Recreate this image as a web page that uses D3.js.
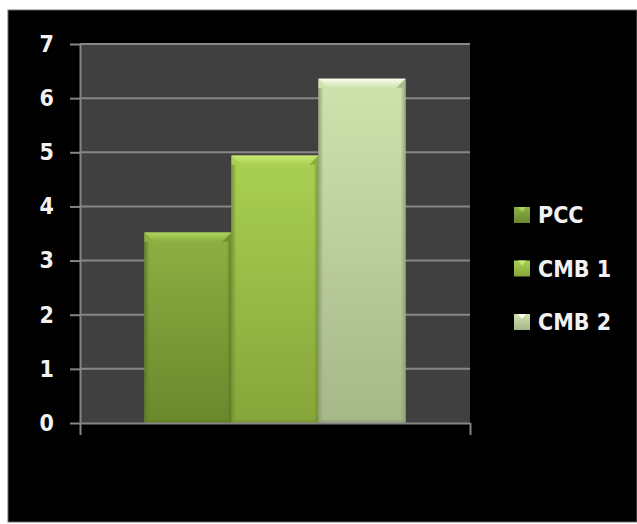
<!DOCTYPE html>
<html>
<head>
<meta charset="utf-8">
<script src="https://cdn.jsdelivr.net/npm/d3@7"></script>
<style>
  html, body { margin: 0; padding: 0; background: #ffffff; }
  svg { display: block; }
  text { font-family: "Liberation Sans Narrow", "DejaVu Sans Condensed", "Liberation Sans", sans-serif; font-weight: bold; fill: #f2f2f2; }
</style>
</head>
<body>
<svg id="chart" width="637" height="524"></svg>
<script>
// ---- data ----
const categories = [""];
const series = ["PCC", "CMB 1", "CMB 2"];
const values = [3.52, 4.94, 6.36];
const yTicks = [0, 1, 2, 3, 4, 5, 6, 7];

// ---- styles ----
const faceTop    = ["#8db043", "#a9d052", "#cfe3ae"];
const faceBottom = ["#6a882c", "#86a53a", "#a6b788"];
const bevelLight = ["#acd45c", "#c8ea76", "#f8fdf0"];
const bevelDark  = ["#5d7a24", "#739230", "#8e9e74"];

const W = 637, H = 524;
const margin = { left: 80, right: 167, top: 44, bottom: 101 };
const plotW = W - margin.left - margin.right;   // 390
const plotH = H - margin.top - margin.bottom;   // 379

const svg = d3.select("#chart");
const defs = svg.append("defs");

// background frame
svg.append("rect").attr("x", 8).attr("y", 10).attr("width", 629).attr("height", 512)
  .attr("fill", "#000").attr("stroke", "#6a6a6a").attr("stroke-width", 1);

const g = svg.append("g").attr("transform", `translate(${margin.left},${margin.top})`);

const y = d3.scaleLinear().domain([0, 7]).range([plotH, 0]);
const x0 = d3.scaleBand().domain(categories).range([0, plotW]).paddingInner(0).paddingOuter(0.247);
const x1 = d3.scaleBand().domain(series).range([0, x0.bandwidth()]).padding(0);

// plot background
g.append("rect").attr("x", 0).attr("y", 0).attr("width", plotW).attr("height", plotH).attr("fill", "#404040");

// gridlines
g.append("g").selectAll("line").data(yTicks.filter(d => d > 0)).join("line")
  .attr("x1", 0).attr("x2", plotW)
  .attr("y1", d => y(d)).attr("y2", d => y(d))
  .attr("stroke", "#878787").attr("stroke-width", 2);

// gradients
series.forEach((s, i) => {
  const lg = defs.append("linearGradient").attr("id", "face" + i).attr("x1", 0).attr("y1", 0).attr("x2", 0).attr("y2", 1);
  lg.append("stop").attr("offset", "0%").attr("stop-color", faceTop[i]);
  lg.append("stop").attr("offset", "100%").attr("stop-color", faceBottom[i]);
  const bv = defs.append("linearGradient").attr("id", "bevel" + i).attr("x1", 0).attr("y1", 0).attr("x2", 0).attr("y2", 1);
  bv.append("stop").attr("offset", "0%").attr("stop-color", bevelLight[i]);
  bv.append("stop").attr("offset", "100%").attr("stop-color", faceTop[i]);
  const lgL = defs.append("linearGradient").attr("id", "edgeL" + i).attr("x1", 0).attr("y1", 0).attr("x2", 1).attr("y2", 0);
  lgL.append("stop").attr("offset", "0%").attr("stop-color", bevelDark[i]).attr("stop-opacity", 0.9);
  lgL.append("stop").attr("offset", "100%").attr("stop-color", bevelDark[i]).attr("stop-opacity", 0);
  const lgR = defs.append("linearGradient").attr("id", "edgeR" + i).attr("x1", 1).attr("y1", 0).attr("x2", 0).attr("y2", 0);
  lgR.append("stop").attr("offset", "0%").attr("stop-color", bevelDark[i]).attr("stop-opacity", 0.9);
  lgR.append("stop").attr("offset", "100%").attr("stop-color", bevelDark[i]).attr("stop-opacity", 0);
});

// bars
const bev = 9, edge = 5;
const bars = g.append("g").attr("transform", `translate(${x0("")},0)`);
series.forEach((s, i) => {
  const bx = x1(s), bw = x1.bandwidth(), by = y(values[i]), bh = y(0) - y(values[i]);
  const b = bars.append("g");
  b.append("rect").attr("x", bx).attr("y", by).attr("width", bw).attr("height", bh).attr("fill", `url(#face${i})`);
  b.append("rect").attr("x", bx).attr("y", by + bev).attr("width", edge).attr("height", bh - bev).attr("fill", `url(#edgeL${i})`);
  b.append("rect").attr("x", bx + bw - edge).attr("y", by + bev).attr("width", edge).attr("height", bh - bev).attr("fill", `url(#edgeR${i})`);
  b.append("rect").attr("x", bx).attr("y", by + bh - 3).attr("width", bw).attr("height", 3).attr("fill", bevelDark[i]).attr("opacity", 0.5);
  // top bevel
  b.append("path")
    .attr("d", `M${bx},${by} L${bx + bw},${by} L${bx + bw - bev},${by + bev} L${bx + bev},${by + bev} Z`)
    .attr("fill", `url(#bevel${i})`);
  // side bevel triangles
  b.append("path").attr("d", `M${bx},${by} L${bx + bev},${by + bev} L${bx},${by + bev} Z`).attr("fill", faceTop[i]);
  b.append("path").attr("d", `M${bx + bw},${by} L${bx + bw - bev},${by + bev} L${bx + bw},${by + bev} Z`).attr("fill", bevelDark[i]).attr("opacity", 0.6);
});

// axes
const axisColor = "#858585";
const yAxis = g.append("g").call(d3.axisLeft(y).tickValues(yTicks).tickFormat(d3.format("d")).tickSize(10).tickPadding(16).tickSizeOuter(0));
yAxis.selectAll("line").attr("stroke", axisColor).attr("stroke-width", 2);
yAxis.select(".domain").attr("stroke", axisColor).attr("stroke-width", 2);
yAxis.selectAll("text").attr("font-size", 23).attr("fill", "#f2f2f2")
  .style("font-family", '"Liberation Sans Narrow", "DejaVu Sans Condensed", sans-serif').style("font-weight", "bold");

const xEdge = d3.scaleLinear().domain([0, 1]).range([0, plotW]);
const xAxis = g.append("g").attr("transform", `translate(0,${plotH})`)
  .call(d3.axisBottom(xEdge).tickValues([0, 1]).tickFormat(() => "").tickSize(12).tickSizeOuter(0));
xAxis.selectAll("line").attr("stroke", axisColor).attr("stroke-width", 2);
xAxis.select(".domain").attr("stroke", axisColor).attr("stroke-width", 2);

// legend
const legY = d3.scalePoint().domain(series).range([215, 322]);
const leg = svg.append("g");
series.forEach((s, i) => {
  const cy = legY(s);
  const lgq = defs.append("linearGradient").attr("id", "leg" + i).attr("x1", 0).attr("y1", 0).attr("x2", 0).attr("y2", 1);
  lgq.append("stop").attr("offset", "0%").attr("stop-color", faceTop[i]);
  lgq.append("stop").attr("offset", "100%").attr("stop-color", faceBottom[i]);
  leg.append("rect").attr("x", 514).attr("y", cy - 8).attr("width", 16).attr("height", 16).attr("fill", `url(#leg${i})`);
  leg.append("path").attr("d", `M${518},${cy - 8} L${526},${cy - 8} L${522},${cy - 3} Z`).attr("fill", bevelLight[i]);
  leg.append("text").attr("x", 538).attr("y", cy).attr("dy", "0.36em").attr("font-size", 23).text(s);
});
</script>
</body>
</html>
